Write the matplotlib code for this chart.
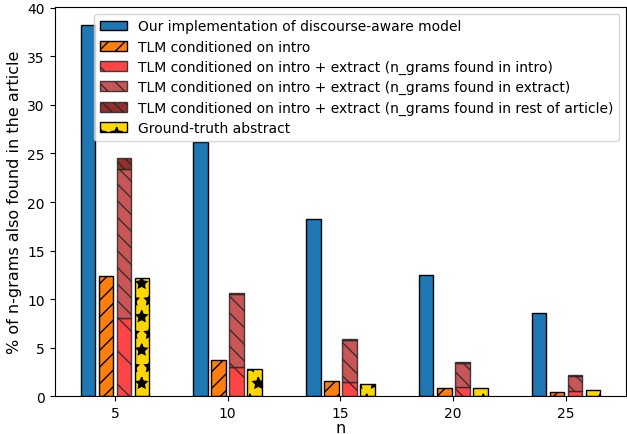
import numpy as np
import matplotlib
matplotlib.use("Agg")
from matplotlib import pyplot as plt

ns = [5, 10, 15, 20, 25]

ours = [38.2, 26.2, 18.2, 12.5, 8.6]
tlm_intro = [12.4, 3.7, 1.6, 0.85, 0.4]
tlm_ie_intro = [8.1, 3.0, 1.5, 0.95, 0.5]
tlm_ie_extract = [15.3, 7.5, 4.3, 2.5, 1.6]
tlm_ie_rest = [1.1, 0.1, 0.1, 0.05, 0.05]
ground_truth = [12.2, 2.8, 1.3, 0.8, 0.6]

labels = [
    "Our implementation of discourse-aware model",
    "TLM conditioned on intro",
    "TLM conditioned on intro + extract (n_grams found in intro)",
    "TLM conditioned on intro + extract (n_grams found in extract)",
    "TLM conditioned on intro + extract (n_grams found in rest of article)",
    "Ground-truth abstract",
]


def main():
    x = np.array(ns, dtype=float)
    w = 0.65
    red_edge = (0.15, 0.15, 0.15, 0.85)

    fig = plt.figure(figsize=(6.27, 4.35), dpi=100)
    ax = fig.add_axes([0.087, 0.087, 0.912, 0.895])

    ax.bar(x - 1.2, ours, w, color="#1f77b4", edgecolor="black", label=labels[0])
    ax.bar(x - 0.4, tlm_intro, w, color="#ff7f0e", edgecolor="black", hatch="//", label=labels[1])

    bottom = np.array(tlm_ie_intro)
    ax.bar(x + 0.4, tlm_ie_intro, w, color="#fe4545", edgecolor=red_edge, hatch="\\", label=labels[2])
    ax.bar(x + 0.4, tlm_ie_extract, w, bottom=bottom, color="#c85656", edgecolor=red_edge, hatch="\\\\", label=labels[3])
    bottom = bottom + np.array(tlm_ie_extract)
    ax.bar(x + 0.4, tlm_ie_rest, w, bottom=bottom, color="#923030", edgecolor=red_edge, hatch="\\\\\\", label=labels[4])

    ax.bar(x + 1.2, ground_truth, w, color="#ffd700", edgecolor="black", hatch="*", label=labels[5])

    ax.set_xticks(ns)
    ax.set_xlabel("n", fontsize=11.5, labelpad=0)
    ax.set_ylabel("% of n-grams also found in the article", fontsize=11.5)
    ax.legend(loc="upper right", fontsize=10, labelspacing=0.45)

    fig.savefig("out.png", dpi=100)
    plt.close(fig)


if __name__ == '__main__':
    main()
